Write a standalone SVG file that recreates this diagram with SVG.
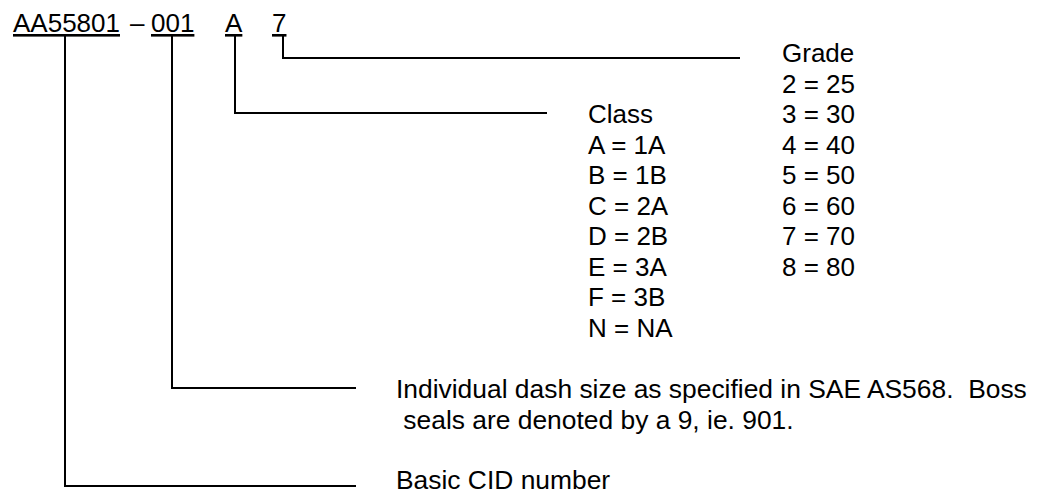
<svg xmlns="http://www.w3.org/2000/svg" width="1039" height="493" viewBox="0 0 1039 493">
<style>
text{font-family:"Liberation Sans",Arial,sans-serif;font-size:26px;fill:#000}
.u{text-decoration:underline}
.l{font-size:26.4px}
.c{fill:none;stroke:#000;stroke-width:2}
</style>
<rect width="1039" height="493" fill="#fff"/>
<g id="code">
<text x="13" y="32" class="u">AA55801</text>
<text x="130" y="32">–</text>
<text x="151" y="32" class="u">001</text>
<text x="225" y="32" class="u">A</text>
<text x="272" y="32" class="u">7</text>
</g>
<g id="connectors">
<polyline class="c" points="65,35 65,486 356,486"/>
<polyline class="c" points="172,35 172,388 356,388"/>
<polyline class="c" points="235,35 235,113 547,113"/>
<polyline class="c" points="283,35 283,58 740,58"/>
</g>
<g id="grade">
<text x="782" y="62">Grade</text>
<text x="782" y="92.5">2 = 25</text>
<text x="782" y="123">3 = 30</text>
<text x="782" y="153.5">4 = 40</text>
<text x="782" y="184">5 = 50</text>
<text x="782" y="214.5">6 = 60</text>
<text x="782" y="245">7 = 70</text>
<text x="782" y="275.5">8 = 80</text>
</g>
<g id="class">
<text x="588" y="123">Class</text>
<text x="588" y="153.5">A = 1A</text>
<text x="588" y="184">B = 1B</text>
<text x="588" y="214.5">C = 2A</text>
<text x="588" y="245">D = 2B</text>
<text x="588" y="275.5">E = 3A</text>
<text x="588" y="306">F = 3B</text>
<text x="588" y="336.5">N = NA</text>
</g>
<g id="dash">
<text x="396" y="398" class="l" xml:space="preserve">Individual dash size as specified in SAE AS568.  Boss</text>
<text x="396" y="429" class="l" xml:space="preserve"> seals are denoted by a 9, ie. 901.</text>
</g>
<g id="basic">
<text x="396" y="489" class="l">Basic CID number</text>
</g>
</svg>
